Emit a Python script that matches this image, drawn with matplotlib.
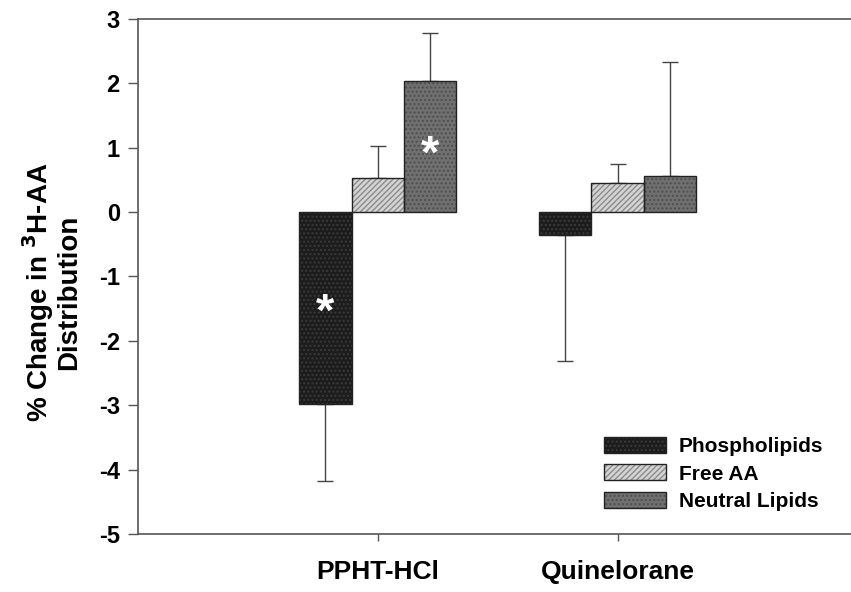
import numpy as np
import matplotlib.pyplot as plt
from matplotlib.legend_handler import HandlerTuple

# 数据
groups = ['PPHT-HCl', 'Quinelorane']
series = ['Phospholipids', 'Free AA', 'Neutral Lipids']
phospho = [-2.98, -0.36]
free_aa = [0.53, 0.45]
neutral = [2.04, 0.56]
phospho_err = [1.19, 1.96]
free_aa_err = [0.50, 0.30]
neutral_err = [0.74, 1.77]
star_y = [(-1.58, 0), (0.88, 2)]  # (y, series) in PPHT group

plt.rcParams['font.family'] = ['Liberation Sans', 'DejaVu Sans']
plt.rcParams['font.weight'] = 'bold'
plt.rcParams['axes.unicode_minus'] = False

fig = plt.figure(figsize=(8.51, 5.92), dpi=100)
ax = fig.add_axes([0.162, 0.098, 0.84, 0.87])

x = np.arange(len(groups))
w = 0.218
fills = ['#1c1c1c', '#d4d4d4', '#707070']
hcols = ['#3a3a3a', '#8c8c8c', '#4e4e4e']
hatches = ['....', '//////', '....']
vals = [phospho, free_aa, neutral]
errs = [phospho_err, free_aa_err, neutral_err]

handles = []
for i in range(3):
    pos = x + (i - 1) * w
    b1 = ax.bar(pos, vals[i], w, color=fills[i], edgecolor=hcols[i],
                hatch=hatches[i], linewidth=0, zorder=2)
    b2 = ax.bar(pos, vals[i], w, fill=False, edgecolor='#222222',
                linewidth=1.0, zorder=3)
    # 单侧误差线
    v = np.array(vals[i])
    e = np.array(errs[i])
    lower = np.where(v < 0, e, 0)
    upper = np.where(v >= 0, e, 0)
    ax.errorbar(pos, v, yerr=[lower, upper], fmt='none', ecolor='#444444',
                elinewidth=1.0, capsize=6, capthick=1.0, zorder=1)
    handles.append((b1, b2))

for yy, s in star_y:
    ax.text(x[0] + (s - 1) * w, yy, '*', color='white', fontsize=34,
            fontweight='bold', ha='center', va='center', zorder=4)

ax.set_xlim(-1.0, 1.98)
ax.set_ylim(-5, 3)
ax.set_yticks(range(-5, 4))
ax.set_xticks(x)
ax.set_xticklabels(groups, fontsize=19, fontweight='bold')
ax.tick_params(axis='x', length=5, width=1, color='#555555', pad=14)
ax.tick_params(axis='y', length=7, width=1, color='#555555', labelsize=17, pad=6)
for lab in ax.get_yticklabels():
    lab.set_fontweight('bold')
for s in ['left', 'bottom', 'top']:
    ax.spines[s].set_color('#555555')
    ax.spines[s].set_linewidth(1.2)
ax.spines['right'].set_visible(False)

ax.set_ylabel('% Change in $\\mathbf{^{3}}$H-AA\nDistribution', fontsize=20,
              fontweight='bold', linespacing=1.0)
ax.yaxis.set_label_coords(-0.078, 0.47)

ax.legend(handles, series, handler_map={tuple: HandlerTuple(ndivide=1)},
          loc='lower right', bbox_to_anchor=(0.985, 0.008), frameon=False,
          handlelength=3.0, handleheight=0.8,
          labelspacing=0.4, handletextpad=0.6,
          prop={'weight': 'bold', 'size': 15})

fig.savefig('out.png', dpi=100)
